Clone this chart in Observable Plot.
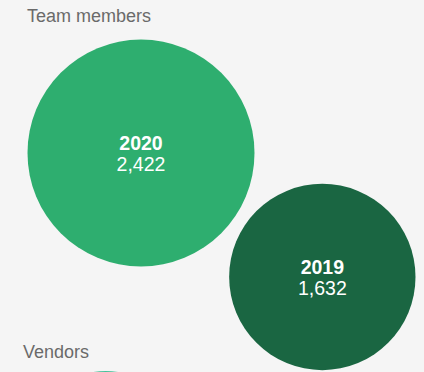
<!DOCTYPE html>
<html>
<head>
<meta charset="utf-8">
<script src="https://cdn.jsdelivr.net/npm/d3@7"></script>
<script src="https://cdn.jsdelivr.net/npm/@observablehq/plot@0.6"></script>
<style>
  html, body { margin: 0; padding: 0; background: #f5f5f5; }
  #wrap { position: relative; width: 424px; height: 372px; overflow: hidden; background: #f5f5f5;
          font-family: "Liberation Sans", Arial, Helvetica, sans-serif; }
  .head { position: absolute; font-size: 18px; line-height: 22px; color: #6a6a6a; }
  .chart { position: absolute; left: 0; }
</style>
</head>
<body>
<div id="wrap">
  <div class="head" id="h1" style="top:5px; left:27px;"></div>
  <div class="chart" id="c1" style="top:30px;"></div>
  <div class="head" id="h2" style="top:341px; left:23px;"></div>
  <div class="chart" id="c2" style="top:362px;"></div>
</div>
<script>
// ---- data ----
const sectionTitles = ["Team members", "Vendors"];
const years = ["2020", "2019"];
const teamMembers = [2422, 1632];
const vendorYears = ["2020"];
const vendors = [1150];
const yearColors = ["#2eae6f", "#1a6642"];
const vendorColors = ["#45c19a"];

// ---- layout ----
const W = 424;
const maxR = 113.5;
const rScale = d3.scaleSqrt().domain([0, d3.max(teamMembers)]).range([0, maxR]);
const fmt = d3.format(",");

document.getElementById("h1").textContent = sectionTitles[0];
document.getElementById("h2").textContent = sectionTitles[1];

// Team members: first circle top-left, second circle right-aligned, placed diagonally with a gap
const r1 = rScale(teamMembers[0]), r2 = rScale(teamMembers[1]);
const c1 = {x: 27 + r1, y: 9 + r1};
const c2x = W - 9 - r2;
const dist = r1 + r2 + 13;
const c2 = {x: c2x, y: c1.y + Math.sqrt(dist * dist - (c2x - c1.x) ** 2)};
const team = years.map((y, i) => ({year: y, value: teamMembers[i], cx: [c1, c2][i].x, cy: [c1, c2][i].y}));

function bubblePlot(data, height, colors, domainYears, labels) {
  return Plot.plot({
    width: W,
    height,
    margin: 0,
    style: {background: "transparent", fontFamily: "'Liberation Sans', Arial, Helvetica, sans-serif"},
    x: {type: "identity", axis: null},
    y: {type: "identity", axis: null},
    r: {type: "sqrt", domain: [0, d3.max(teamMembers)], range: [0, maxR]},
    color: {domain: domainYears, range: colors},
    marks: [
      Plot.dot(data, {x: "cx", y: "cy", r: "value", fill: "year", stroke: null, fillOpacity: 1}),
      ...(labels ? [
        Plot.text(data, {x: "cx", y: "cy", text: "year", fill: "white", fontSize: 19.5, fontWeight: "bold", lineAnchor: "bottom", dy: -3}),
        Plot.text(data, {x: "cx", y: "cy", text: d => fmt(d.value), fill: "white", fontSize: 19.5, lineAnchor: "bottom", dy: 18})
      ] : [])
    ]
  });
}

document.getElementById("c1").appendChild(bubblePlot(team, 342, yearColors, years, true));

// Vendors (only the top edge of its first bubble is visible)
const rv = rScale(vendors[0]);
const vend = vendorYears.map((y, i) => ({year: y, value: vendors[i], cx: 27 + rv, cy: 8.5 + rv}));
document.getElementById("c2").appendChild(bubblePlot(vend, 10, vendorColors, vendorYears, false));
</script>
</body>
</html>
